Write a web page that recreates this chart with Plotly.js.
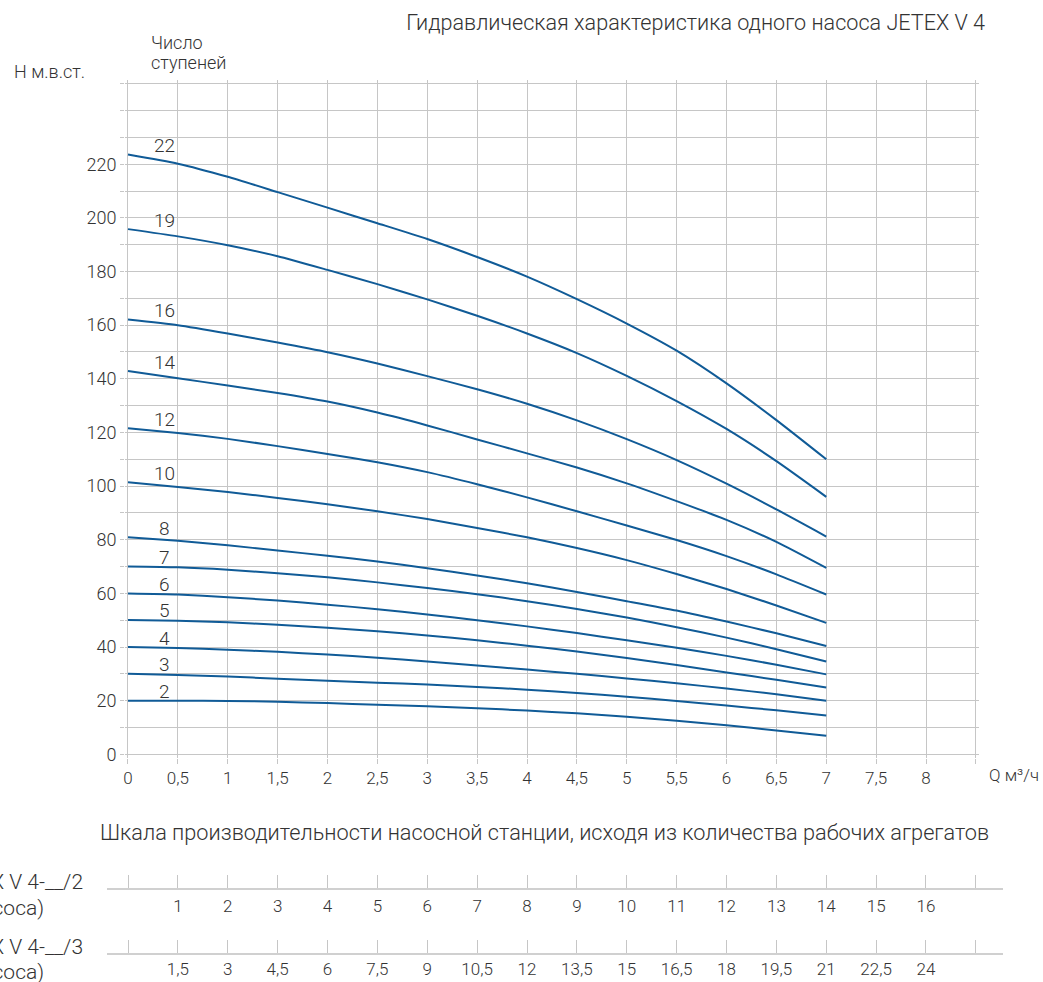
<!DOCTYPE html>
<html>
<head>
<meta charset="utf-8">
<script src="https://cdn.plot.ly/plotly-3.0.1.min.js"></script>
<style>html,body{margin:0;padding:0;background:#fff;}#chart{width:1043px;height:982px;}</style>
</head>
<body>
<div id="chart"></div>
<script>
// Flow rate Q, m3/h (points where heads were read)
const flowQ = [0, 0.5, 1, 1.5, 2, 2.5, 3, 3.5, 4, 4.5, 5, 5.5, 6, 6.5, 7];

// Head H (m water column) per number of stages
const stageNames = ['22', '19', '16', '14', '12', '10', '8', '7', '6', '5', '4', '3', '2'];
const head22 = [223.6, 220.2, 215.3, 209.6, 203.8, 198.0, 192.1, 185.4, 178.1, 169.7, 160.6, 150.5, 138.3, 124.6, 110.0];
const head19 = [195.8, 193.1, 189.8, 185.7, 180.6, 175.3, 169.6, 163.5, 156.9, 149.6, 141.1, 131.7, 121.3, 109.3, 96.0];
const head16 = [162.1, 160.0, 156.9, 153.5, 149.9, 145.7, 141.0, 136.1, 130.7, 124.5, 117.5, 109.7, 100.9, 91.3, 81.2];
const head14 = [142.9, 140.2, 137.5, 134.7, 131.5, 127.4, 122.6, 117.4, 112.2, 106.9, 101.0, 94.4, 87.4, 79.2, 69.5];
const head12 = [121.6, 119.8, 117.6, 114.9, 112.0, 108.9, 105.2, 100.7, 95.8, 90.6, 85.3, 79.9, 73.9, 67.1, 59.6];
const head10 = [101.4, 99.7, 97.8, 95.6, 93.2, 90.6, 87.7, 84.4, 80.9, 76.9, 72.4, 67.2, 61.6, 55.5, 49.0];
const head8  = [80.9, 79.6, 77.9, 76.0, 74.0, 71.9, 69.4, 66.7, 63.8, 60.5, 57.1, 53.6, 49.5, 45.1, 40.4];
const head7  = [70.0, 69.7, 68.8, 67.5, 66.0, 64.1, 62.0, 59.7, 57.1, 54.2, 51.0, 47.4, 43.5, 39.2, 34.6];
const head6  = [60.0, 59.6, 58.6, 57.3, 55.8, 54.1, 52.1, 50.0, 47.7, 45.2, 42.5, 39.7, 36.7, 33.4, 29.8];
const head5  = [50.1, 49.8, 49.2, 48.3, 47.2, 45.9, 44.3, 42.5, 40.5, 38.3, 35.9, 33.3, 30.5, 27.8, 24.9];
const head4  = [40.0, 39.6, 39.0, 38.2, 37.2, 36.0, 34.6, 33.1, 31.6, 30.0, 28.3, 26.5, 24.5, 22.4, 20.0];
const head3  = [30.0, 29.6, 29.0, 28.2, 27.4, 26.7, 26.0, 25.1, 24.1, 22.9, 21.5, 19.9, 18.2, 16.4, 14.5];
const head2  = [20.0, 20.0, 19.9, 19.6, 19.1, 18.5, 17.9, 17.2, 16.3, 15.3, 14.0, 12.5, 10.8, 8.9, 6.9];
const headSeries = [head22, head19, head16, head14, head12, head10, head8, head7, head6, head5, head4, head3, head2];

// Axis ticks
const qTickVals = [0, 0.5, 1, 1.5, 2, 2.5, 3, 3.5, 4, 4.5, 5, 5.5, 6, 6.5, 7, 7.5, 8, 8.5];
const qTickText = ['0', '0,5', '1', '1,5', '2', '2,5', '3', '3,5', '4', '4,5', '5', '5,5', '6', '6,5', '7', '7,5', '8', ''];
const hTickVals = [0, 10, 20, 30, 40, 50, 60, 70, 80, 90, 100, 110, 120, 130, 140, 150, 160, 170, 180, 190, 200, 210, 220, 230, 240, 250];
const hTickText = ['0', '', '20', '', '40', '', '60', '', '80', '', '100', '', '120', '', '140', '', '160', '', '180', '', '200', '', '220', '', '', ''];

// Station capacity scales (labels at Q = 0.5 ... 8)
const stationTickVals = [0, 0.5, 1, 1.5, 2, 2.5, 3, 3.5, 4, 4.5, 5, 5.5, 6, 6.5, 7, 7.5, 8, 8.5];
const station2Text = ['', '1', '2', '3', '4', '5', '6', '7', '8', '9', '10', '11', '12', '13', '14', '15', '16', ''];
const station3Text = ['', '1,5', '3', '4,5', '6', '7,5', '9', '10,5', '12', '13,5', '15', '16,5', '18', '19,5', '21', '22,5', '24', ''];

const FONT = 'Roboto, "Open Sans", sans-serif';
const TXT = '#333333';
const BLUE = '#105b97';
const GRID = '#c6c6c6';

const traces = headSeries.map((h, i) => ({
  type: 'scatter', mode: 'lines', x: flowQ, y: h, name: stageNames[i],
  line: {color: BLUE, width: 2, shape: 'spline', smoothing: 0.6},
  hoverinfo: 'skip', showlegend: false, xaxis: 'x', yaxis: 'y'
}));
traces.push({type: 'scatter', x: [], y: [], xaxis: 'x2', yaxis: 'y2', showlegend: false, hoverinfo: 'skip'});
traces.push({type: 'scatter', x: [], y: [], xaxis: 'x3', yaxis: 'y3', showlegend: false, hoverinfo: 'skip'});

const annotations = headSeries.map((h, i) => ({
  text: stageNames[i], x: 0.37, y: h[0], xref: 'x', yref: 'y',
  xanchor: 'center', yanchor: 'middle', yshift: 9, showarrow: false,
  font: {family: FONT, size: 19, color: TXT, weight: 300}
}));
const ann = (text, x, y, xa, size) => ({
  text: text, x: x, y: y, xref: 'paper', yref: 'paper', xanchor: xa, yanchor: 'middle',
  showarrow: false, font: {family: FONT, size: size, color: TXT, weight: 300}
});
annotations.push(ann('Н м.в.ст.', -0.106, 1.0092, 'left', 18));
annotations.push(ann('Число', 0.0469, 1.0435, 'left', 18));
annotations.push(ann('ступеней', 0.0469, 1.0206, 'left', 18));
annotations.push(ann('Q м³/ч', 0.982, 0.2039, 'left', 17));
annotations.push(ann('Шкала производительности насосной станции, исходя из количества рабочих агрегатов', 0.4888, 0.1375, 'center', 21.7));
annotations.push(ann('JETEX V 4-__/2', -0.02455, 0.0813, 'right', 21));
annotations.push(ann('(2 насоса)', -0.068, 0.0515, 'right', 21));
annotations.push(ann('JETEX V 4-__/3', -0.02455, 0.0069, 'right', 21));
annotations.push(ann('(3 насоса)', -0.068, -0.0214, 'right', 21));

const scaleAxis = (anchor, text, standoff) => ({
  domain: [0, 1], anchor: anchor, range: [-0.2105, 8.772],
  tickmode: 'array', tickvals: stationTickVals, ticktext: text,
  ticks: 'inside', ticklen: 13, tickwidth: 1, tickcolor: GRID,
  showline: true, linecolor: '#d0d0d0', linewidth: 2,
  showgrid: false, zeroline: false, fixedrange: true, ticklabelstandoff: standoff,
  tickfont: {family: FONT, size: 17, color: TXT, weight: 300}
});

const layout = {
  width: 1043, height: 982,
  margin: {l: 107, r: 40, t: 80, b: 29},
  paper_bgcolor: '#ffffff', plot_bgcolor: 'rgba(0,0,0,0)',
  showlegend: false,
  title: {
    text: 'Гидравлическая характеристика одного насоса JETEX V 4',
    x: 0.9444, xref: 'container', xanchor: 'right',
    y: 0.9776, yref: 'container', yanchor: 'middle',
    font: {family: FONT, size: 21.6, color: TXT, weight: 300}
  },
  xaxis: {
    domain: [0.02009, 0.97310], anchor: 'y', range: [-0.03, 8.53],
    tickmode: 'array', tickvals: qTickVals, ticktext: qTickText,
    showgrid: true, gridcolor: GRID, gridwidth: 1, zeroline: false, showline: false,
    ticks: 'outside', ticklen: 5, tickcolor: GRID, tickwidth: 1,
    tickfont: {family: FONT, size: 17, color: TXT, weight: 300}, fixedrange: true
  },
  yaxis: {
    domain: [0.22394, 1], anchor: 'x', range: [-1.19, 251.4],
    tickmode: 'array', tickvals: hTickVals, ticktext: hTickText,
    showgrid: true, gridcolor: GRID, gridwidth: 1, zeroline: false, showline: false,
    ticks: 'outside', ticklen: 4, tickcolor: GRID, tickwidth: 1,
    tickfont: {family: FONT, size: 18, color: TXT, weight: 300}, fixedrange: true
  },
  xaxis2: scaleAxis('y2', station2Text, 2),
  yaxis2: {domain: [0.07446, 0.0755], anchor: 'x2', visible: false, fixedrange: true},
  xaxis3: scaleAxis('y3', station3Text, 0),
  yaxis3: {domain: [0, 0.001], anchor: 'x3', visible: false, fixedrange: true},
  annotations: annotations
};

Plotly.newPlot('chart', traces, layout, {staticPlot: true, displayModeBar: false});
</script>
</body>
</html>
